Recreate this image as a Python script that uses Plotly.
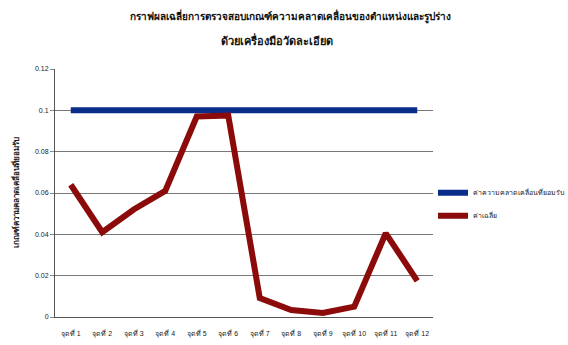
import plotly.graph_objects as go

categories = ["จุดที่ 1", "จุดที่ 2", "จุดที่ 3", "จุดที่ 4", "จุดที่ 5", "จุดที่ 6",
              "จุดที่ 7", "จุดที่ 8", "จุดที่ 9", "จุดที่ 10", "จุดที่ 11", "จุดที่ 12"]
tolerance = [0.1] * 12
average = [0.064, 0.041, 0.052, 0.061, 0.097, 0.0975, 0.0092, 0.0034, 0.002, 0.005, 0.0405, 0.0175]
series_names = ["ค่าความคลาดเคลื่อนที่ยอมรับ", "ค่าเฉลี่ย"]
title_lines = ["กราฟผลเฉลี่ยการตรวจสอบเกณฑ์ความคลาดเคลื่อนของตำแหน่งและรูปร่าง",
               "ด้วยเครื่องมือวัดละเอียด"]
y_title = "เกณฑ์ความคลาดเคลื่อนที่ยอมรับ"
y_ticks = [0, 0.02, 0.04, 0.06, 0.08, 0.1, 0.12]
y_ticklabels = ["0", "0.02", "0.04", "0.06", "0.08", "0.1", "0.12"]

fig = go.Figure()
fig.add_trace(go.Scatter(x=categories, y=tolerance, mode="lines", name=series_names[0],
                         legendgroup="a", line=dict(color="#0a2d8c", width=6)))
fig.add_trace(go.Scatter(x=categories, y=average, mode="lines", name=series_names[1],
                         legendgroup="b", line=dict(color="#8b0a0a", width=6)))

for txt, yy, cx, fs in zip(title_lines, [17, 40], [290, 277], [10, 11]):
    fig.add_annotation(text="<b>" + txt + "</b>", xref="paper", yref="paper",
                       x=(cx - 55) / 378.0, y=1 + (69 - yy) / 248.0,
                       xanchor="center", yanchor="middle", showarrow=False,
                       font=dict(size=fs, color="#111"))

fig.update_layout(
    width=568, height=345,
    margin=dict(l=55, r=135, t=69, b=28, autoexpand=False),
    paper_bgcolor="white", plot_bgcolor="white",
    font=dict(family="Liberation Sans, Noto Sans, sans-serif", color="#222"),
    showlegend=True,
    legend=dict(x=1.0, y=0.455, xanchor="left", yanchor="middle",
                font=dict(size=7), bgcolor="rgba(0,0,0,0)", tracegroupgap=4,
                itemwidth=30),
    xaxis=dict(showgrid=False, showline=True, linecolor="#555", linewidth=1,
               tickfont=dict(size=7), ticks="", ticklabelstandoff=10,
               range=[-0.5, 11.5]),
    yaxis=dict(range=[0, 0.12], tickvals=y_ticks, ticktext=y_ticklabels,
               showgrid=True, gridcolor="#777", gridwidth=1,
               showline=True, linecolor="#555", linewidth=1,
               ticks="outside", ticklen=4, tickcolor="#888",
               tickfont=dict(size=7), zeroline=False,
               title=dict(text="<b>" + y_title + "</b>", font=dict(size=8), standoff=14)),
)
fig.write_html("out.html")
